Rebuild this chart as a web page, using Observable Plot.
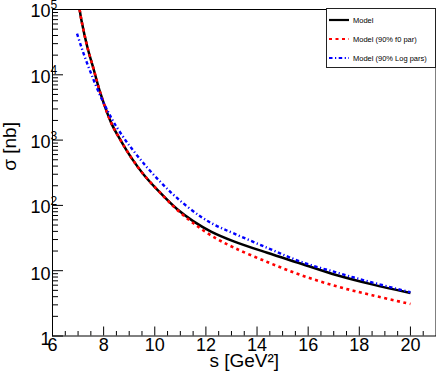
<!DOCTYPE html>
<html><head><meta charset="utf-8">
<script src="https://cdn.jsdelivr.net/npm/d3@7"></script>
<script src="https://cdn.jsdelivr.net/npm/@observablehq/plot@0.6"></script>
<style>
body{margin:0;background:#fff;font-family:"Liberation Sans",Arial,sans-serif;}
#wrap{position:relative;width:436px;height:374px;}
#legend{position:absolute;left:326px;top:8px;width:110px;height:60px;border:1px solid #222;background:#fff;box-sizing:border-box;font-size:7.5px;color:#000;}
.row{position:absolute;left:2px;height:10px;display:flex;align-items:center;white-space:nowrap;}
.row svg{width:20px;height:6px;margin-right:4px;flex:none}
</style></head><body><div id="wrap"><div id="legend"></div></div>
<script>
// Model (black, solid)
const sModel = [7.06, 7.13, 7.36, 7.62, 7.88, 8.30, 8.66, 9.10, 9.57, 10.22, 10.88, 11.50, 12.20, 13.09, 14.40, 15.70, 17.13, 18.5, 20];
const sigmaModel = [100000, 69200, 26900, 11750, 5130, 1820, 1000, 525, 295, 155, 87.1, 57.5, 39.8, 28.2, 18.8, 12.9, 8.51, 6.17, 4.57];
// Model (90% f0 par) (red, dashed)
const sF0 = [7.06, 7.13, 7.36, 7.62, 7.88, 8.30, 8.66, 9.10, 9.57, 10.22, 10.88, 11.50, 12.20, 13.09, 14.40, 15.70, 17.13, 18.5, 20];
const sigmaF0 = [100000, 69200, 26900, 11750, 5130, 1820, 1000, 525, 295, 155, 85.1, 53.7, 34.7, 22.6, 13.6, 8.61, 5.75, 4.22, 3.09];
// Model (90% Log pars) (blue, dash-dot)
const sLog = [6.96, 7.10, 7.22, 7.36, 7.51, 7.64, 7.88, 8.18, 8.40, 8.85, 9.10, 9.57, 10.22, 10.88, 11.79, 12.40, 13.09, 14.40, 15.70, 17.13, 18.5, 20];
const sigmaLog = [42660, 28840, 20890, 14790, 10470, 7760, 4680, 2690, 1860, 1000, 741, 437, 229, 129, 67.6, 49.0, 37.2, 22.4, 13.8, 9.33, 6.61, 4.68];

const seriesNames = ["Model", "Model (90% f0 par)", "Model (90% Log pars)"];
const seriesColors = ["#000000", "#ff0000", "#0000ff"];
const seriesDash = [null, "3,3.5", "3.5,2.5,1.2,2.5"];
const seriesWidth = [2.5, 2.6, 2.4];

const xMajor = [6, 8, 10, 12, 14, 16, 18, 20];
const xLabels = ["6", "8", "10", "12", "14", "16", "18", "20"];
const yMajor = [1, 10, 100, 1000, 10000, 100000];
const yBase = ["1", "10", "10", "10", "10", "10"];
const yExp = ["", "", "2", "3", "4", "5"];
const xTitle = "s [GeV\u00b2]";
const yTitle = "\u03c3 [nb]";

const xMinor = d3.range(6.5, 21, 0.5).filter(v => v % 2 !== 0);
const yMinor = [];
for (const d of [1, 10, 100, 1000, 10000]) for (let k = 2; k <= 9; k++) yMinor.push(d * k);

const W = 436, H = 374, mL = 52, mR = 0.5, mT = 9, mB = 38.5;
const innerW = W - mL - mR, innerH = H - mT - mB;

const toRows = (s, v) => s.map((x, i) => ({s: x, v: v[i]}));
const rows = [toRows(sModel, sigmaModel), toRows(sF0, sigmaF0), toRows(sLog, sigmaLog)];

const plainIdx = yMajor.map((d, i) => i).filter(i => yExp[i] === "");
const expIdx = yMajor.map((d, i) => i).filter(i => yExp[i] !== "");

const chart = Plot.plot({
  width: W, height: H,
  marginLeft: mL, marginRight: mR, marginTop: mT, marginBottom: mB,
  x: {domain: [6, 21], axis: null},
  y: {type: "log", domain: [1, 1e5], axis: null},
  style: {fontFamily: "'Liberation Sans', Arial, sans-serif", color: "#000", background: "#fff"},
  marks: [
    // ticks
    Plot.tickX(xMajor, {x: d => d, stroke: "#000", strokeWidth: 1, insetTop: innerH - 9}),
    Plot.tickX(xMinor, {x: d => d, stroke: "#000", strokeWidth: 1, insetTop: innerH - 4.5}),
    Plot.tickY(yMajor, {y: d => d, stroke: "#000", strokeWidth: 1, insetRight: innerW - 11}),
    Plot.tickY(yMinor, {y: d => d, stroke: "#000", strokeWidth: 1, insetRight: innerW - 6}),
    // curves
    ...rows.map((r, i) => Plot.line(r, {
      x: "s", y: "v", curve: "catmull-rom", clip: true,
      stroke: seriesColors[i], strokeWidth: seriesWidth[i],
      strokeDasharray: seriesDash[i], strokeLinecap: "butt"
    })),
    Plot.frame({stroke: "#000", strokeWidth: 1}),
    // x tick labels
    Plot.text(xMajor, {x: d => d, frameAnchor: "bottom", text: (d, i) => xLabels[i], lineAnchor: "top", dy: 2.5, fontSize: 18, fill: "#000"}),
    // y tick labels
    Plot.text(plainIdx, {y: i => yMajor[i], frameAnchor: "left", text: i => yBase[i], textAnchor: "end", dx: -2, dy: 3.7, fontSize: 18, fill: "#000"}),
    Plot.text(expIdx, {y: i => yMajor[i], frameAnchor: "left", text: i => yBase[i], textAnchor: "end", dx: -2, dy: 2.2, fontSize: 18, fill: "#000"}),
    Plot.text(expIdx, {y: i => yMajor[i], frameAnchor: "left", text: i => yExp[i], textAnchor: "start", dx: -2, dy: -4.3, fontSize: 12, fill: "#000"}),
    // axis titles
    Plot.text([xTitle], {frameAnchor: "bottom", text: d => d, lineAnchor: "middle", dy: 25.1, fontSize: 19, fill: "#000"}),
    Plot.text([yTitle], {frameAnchor: "left", text: d => d, rotate: -90, lineAnchor: "middle", dx: -43, dy: -2, fontSize: 19, fill: "#000"})
  ]
});
document.getElementById("wrap").prepend(chart);

// legend
const lg = document.getElementById("legend");
const rowTops = [6, 25.3, 44.3];
seriesNames.forEach((name, i) => {
  const row = document.createElement("div");
  row.className = "row";
  row.style.top = rowTops[i] + "px";
  const dash = seriesDash[i] ? `stroke-dasharray="${seriesDash[i]}"` : "";
  row.innerHTML = `<svg viewBox="0 0 20 6"><line x1="0" y1="3" x2="20" y2="3" stroke="${seriesColors[i]}" stroke-width="${i === 0 ? 2.2 : 2}" ${dash}/></svg><span>${name}</span>`;
  lg.appendChild(row);
});
</script>
</body></html>
